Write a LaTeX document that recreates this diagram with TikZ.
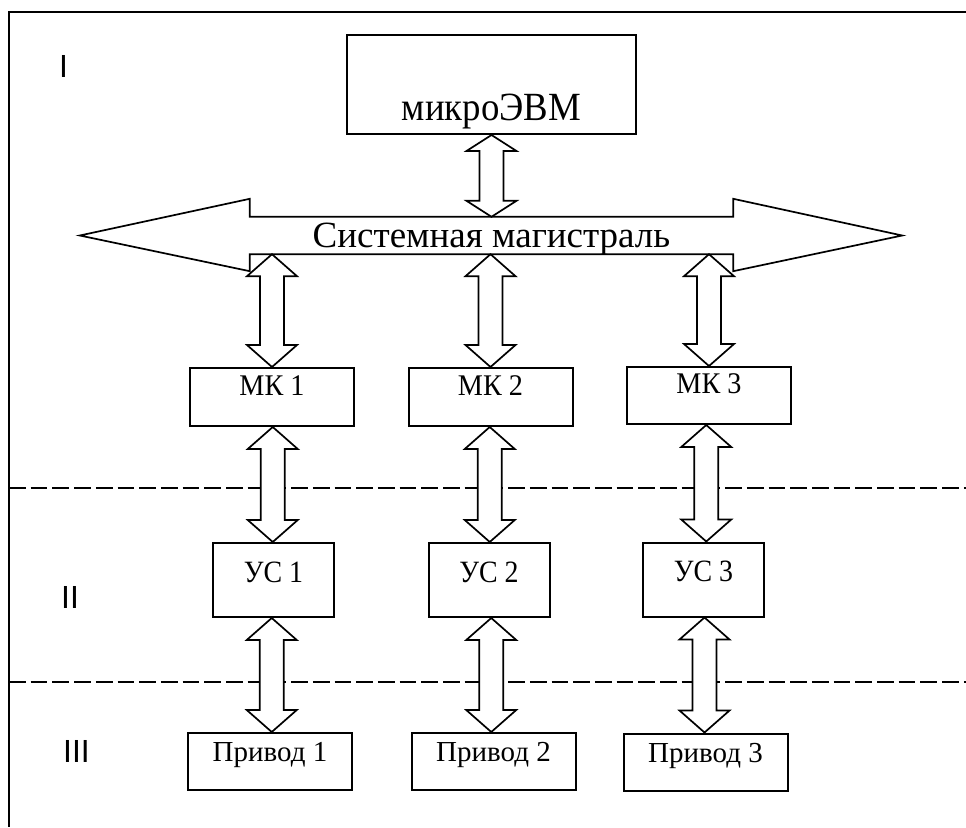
\documentclass[tikz,border=0pt]{standalone}
\usepackage{fontspec}
\setmainfont{Liberation Serif}
\newfontfamily\levelfont{Liberation Sans}
\newfontfamily\serifA[FakeStretch=0.92]{Liberation Serif}
\newfontfamily\serifB[FakeStretch=0.94]{Liberation Serif}
\newfontfamily\serifC[FakeStretch=0.90]{Liberation Serif}
\usetikzlibrary{calc}

\tikzset{
  box/.style={draw, line width=2pt, rectangle, inner sep=0pt},
  outline/.style={draw, line width=1.7pt, line join=miter, fill=white},
  levellabel/.style={font=\levelfont\fontsize{32}{32}\selectfont, anchor=base west, inner sep=0pt},
  zoneline/.style={dash pattern=on 16.7pt off 5pt, line width=2pt},
  mkbox/.style={box, minimum width=164pt, minimum height=58pt, text height=10pt, text depth=14pt,
    font=\serifB\fontsize{30}{30}\selectfont},
  usbox/.style={box, minimum width=121pt, minimum height=74pt, text height=14pt, text depth=10pt,
    font=\serifC\fontsize{31}{31}\selectfont},
  drvbox/.style={box, minimum width=164pt, minimum height=57pt, text height=12pt, text depth=12pt,
    font=\fontsize{29}{29}\selectfont},
}

% two-headed hollow block arrow between two points; optional arg is the head length
\newcommand\blockarrow[3][22pt]{%
  \draw[outline] let \p1=(#2), \p2=(#3), \p3=($(#2)!0.5!(#3)$) in
    (\x3,\y1) -- ({\x3+25pt},{\y1-#1}) -- ({\x3+12pt},{\y1-#1}) -- ({\x3+12pt},{\y2+#1})
    -- ({\x3+25pt},{\y2+#1}) -- (\x3,\y2) -- ({\x3-25pt},{\y2+#1}) -- ({\x3-12pt},{\y2+#1})
    -- ({\x3-12pt},{\y1-#1}) -- ({\x3-25pt},{\y1-#1}) -- cycle;}

\begin{document}
\begin{tikzpicture}[x=1pt, y=-1pt]
\useasboundingbox (0,0) rectangle (966,827);

% frame
\coordinate (frameTR) at (966,12);
\coordinate (frameTL) at (9,12);
\coordinate (frameBL) at (9,827);
\draw[line width=2pt] (frameTR) -- (frameTL) -- (frameBL);

% zone separators
\coordinate (z1L) at (9,488);
\coordinate (z1R) at (966,488);
\coordinate (z2L) at (9,682);
\coordinate (z2R) at (966,682);
\draw[zoneline] (z1L) -- (z1R);
\draw[zoneline] (z2L) -- (z2R);

% level labels
\node[levellabel] (lvl1) at (59,77) {I};
\node[levellabel] (lvl2) at (61,608) {II};
\node[levellabel] (lvl3) at (63,762) {III};

% microcomputer
\node[box, minimum width=289pt, minimum height=99pt, text height=71pt, text depth=0pt,
  font=\serifA\fontsize{40}{40}\selectfont] (evm) at (491.5,84.5) {микроЭВМ};

% system bus
\node[inner sep=0pt, minimum width=483pt, minimum height=37pt, text height=23pt, text depth=0pt,
  font=\fontsize{37}{37}\selectfont] (bus) at (491.5,235.5) {};
\draw[outline, fill=none] (bus.north west) -- (bus.north east) -- ++(0,-18) -- ($(bus.east)+(169,0)$)
  -- ($(bus.south east)+(0,17)$) -- (bus.south east) -- (bus.south west)
  -- ($(bus.south west)+(0,17)$) -- ($(bus.west)+(-170,0)$) -- ($(bus.north west)+(0,-18)$) -- cycle;
\node[inner sep=0pt, minimum width=483pt, minimum height=37pt, text height=23pt, text depth=0pt,
  font=\fontsize{37}{37}\selectfont] (bustext) at (bus) {Системная магистраль};

% controllers
\node[mkbox] (mk1) at (272,397) {МК 1};
\node[mkbox] (mk2) at (490.5,397) {МК 2};
\node[mkbox, minimum height=57pt] (mk3) at (709,395.5) {МК 3};

% interface devices
\node[usbox] (us1) at (273.5,580) {УС 1};
\node[usbox] (us2) at (489,580) {УС 2};
\node[usbox] (us3) at (703.5,579.5) {УС 3};

% drives
\node[drvbox] (dr1) at (270,761.5) {Привод 1};
\node[drvbox] (dr2) at (493.5,761.5) {Привод 2};
\node[drvbox] (dr3) at (705.5,762) {Привод 3};

% links
\blockarrow[16pt]{evm.south}{bus.north}
\blockarrow{bus.south -| mk1.north}{mk1.north}
\blockarrow{bus.south -| mk2.north}{mk2.north}
\blockarrow{bus.south -| mk3.north}{mk3.north}
\blockarrow{mk1.south}{us1.north}
\blockarrow{mk2.south}{us2.north}
\blockarrow{mk3.south}{us3.north}
\blockarrow{us1.south}{dr1.north}
\blockarrow{us2.south}{dr2.north}
\blockarrow{us3.south}{dr3.north}
\end{tikzpicture}
\end{document}
